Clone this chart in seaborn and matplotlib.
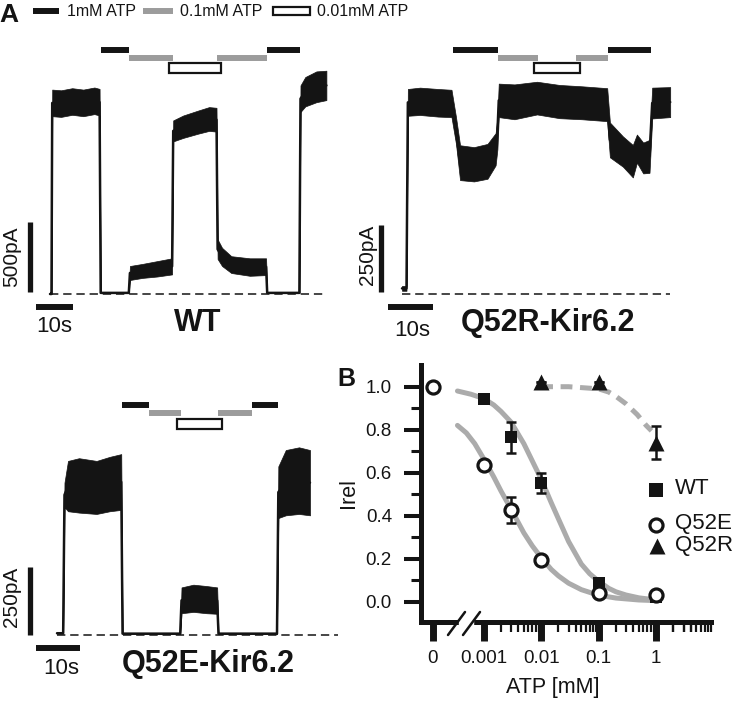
import numpy as np
import pandas as pd
import seaborn as sns
import matplotlib.pyplot as plt
from matplotlib.patches import Rectangle

sns.set_theme(style="white")
plt.rcParams['font.family'] = ['Liberation Sans', 'DejaVu Sans']
plt.rcParams['lines.scale_dashes'] = False

# ---- panel A: current traces, time (s) with lower / upper noise envelope (pA)
wt_t = [0.0, 0.4, 0.6, 3, 6, 9, 12, 13.4, 13.7, 21.3, 21.6, 25, 29, 33.0, 33.3, 36, 40, 43, 45.0,
        45.3, 46.5, 49, 54, 58.4, 58.7, 67.4, 67.7, 69, 72, 74.7]
wt_lo = [0, 0, 1270, 1265, 1280, 1270, 1285, 1275, 8, 8, 100, 115, 125, 140, 1090, 1115, 1145, 1165, 1160,
         250, 200, 150, 130, 135, 8, 8, 1300, 1340, 1370, 1385]
wt_hi = [0, 0, 1460, 1455, 1470, 1460, 1475, 1465, 8, 8, 200, 215, 235, 255, 1240, 1275, 1310, 1335, 1330,
         390, 330, 270, 255, 255, 8, 8, 1490, 1550, 1590, 1595]

q52r_t = [0.0, 1.0, 1.3, 4, 8, 11.0, 12.0, 12.9, 16, 19, 20.8, 21.2, 21.5, 25, 30, 35, 40, 45.6,
          46.2, 49.1, 51.3, 52.2, 53.6, 55.0, 55.6, 59.6]
q52r_lo = [12, 12, 665, 668, 662, 660, 560, 425, 420, 430, 480, 540, 660, 652, 670, 656, 652, 645,
           510, 475, 435, 490, 450, 452, 655, 660]
q52r_hi = [30, 30, 765, 770, 765, 762, 660, 555, 548, 560, 600, 660, 785, 782, 792, 780, 775, 768,
           640, 588, 556, 595, 565, 575, 770, 772]

q52e_t = [0.0, 1.4, 1.7, 2.5, 5, 9, 12, 14.6, 14.9, 28.0, 28.3, 31, 34, 36.4, 36.7, 50.0, 50.3, 52, 55, 57.5]
q52e_lo = [5, 5, 470, 455, 450, 445, 455, 460, 4, 4, 80, 85, 80, 78, 4, 4, 430, 440, 445, 440]
q52e_hi = [8, 8, 560, 640, 650, 640, 655, 665, 6, 6, 175, 185, 180, 175, 6, 6, 620, 680, 690, 680]

# solution exchange periods (s)
wt_black = [(13.8, 21.4), (58.6, 67.6)]
wt_gray = [(21.4, 33.2), (45.1, 58.6)]
wt_open = (32.2, 46.2)
q52r_black = [(11.3, 21.3), (45.8, 55.3)]
q52r_gray = [(21.3, 30.2), (38.7, 45.8)]
q52r_open = (29.3, 39.6)
q52e_black = [(14.8, 20.9), (44.3, 50.2)]
q52e_gray = [(20.9, 28.2), (36.6, 44.3)]
q52e_open = (27.3, 37.5)

# ---- panel B: relative current vs ATP (mM)
wt_atp = [0.001, 0.003, 0.01, 0.1, 1]
wt_irel = [0.945, 0.765, 0.553, 0.086, 0.02]
wt_err = [0.02, 0.072, 0.047, 0.015, 0.01]
q52e_atp = [0, 0.001, 0.003, 0.01, 0.1, 1]
q52e_irel = [1.0, 0.634, 0.425, 0.195, 0.04, 0.03]
q52e_err = [0.0, 0.015, 0.06, 0.015, 0.01, 0.01]
q52r_atp = [0.01, 0.1, 1]
q52r_irel = [1.022, 1.022, 0.74]
q52r_err = [0.0, 0.0, 0.076]

wt_fit_atp = [0.00035, 0.0006, 0.001, 0.0015, 0.002, 0.003, 0.005, 0.007, 0.01, 0.015, 0.02, 0.03,
              0.05, 0.07, 0.1, 0.15, 0.2, 0.3, 0.5, 1.0]
wt_fit_irel = [0.98, 0.965, 0.945, 0.915, 0.885, 0.835, 0.735, 0.655, 0.57, 0.46, 0.385, 0.28,
               0.175, 0.13, 0.095, 0.062, 0.046, 0.031, 0.018, 0.008]
q52e_fit_atp = [0.00035, 0.0005, 0.0007, 0.001, 0.0015, 0.002, 0.003, 0.005, 0.007, 0.01, 0.015,
                0.02, 0.03, 0.05, 0.1, 0.2, 0.5, 1.0]
q52e_fit_irel = [0.82, 0.785, 0.735, 0.665, 0.58, 0.515, 0.43, 0.32, 0.26, 0.205, 0.15,
                 0.12, 0.086, 0.056, 0.03, 0.017, 0.008, 0.005]
q52r_fit_atp = [0.01, 0.03, 0.1, 0.15, 0.2, 0.3, 0.47, 0.67, 0.83]
q52r_fit_irel = [1.0, 1.0, 0.99, 0.975, 0.955, 0.92, 0.87, 0.82, 0.795]

x_ticks = [0, 0.001, 0.01, 0.1, 1]
x_ticklabels = ['0', '0.001', '0.01', '0.1', '1']
y_ticks = [0.0, 0.2, 0.4, 0.6, 0.8, 1.0]

W, H = 740, 702
INK = '#141414'
GREY_BAR = '#9c9c9c'
GREY_FIT = '#ababab'

fig = plt.figure(figsize=(W / 100, H / 100), dpi=100)


def trace_axes(box, x0, pps, base, ppa):
    l, t, r, b = box
    ax = fig.add_axes([l / W, 1 - b / H, (r - l) / W, (b - t) / H])
    ax.set_xlim((l - x0) / pps, (r - x0) / pps)
    ax.set_ylim((base - b) / ppa, (base - t) / ppa)
    ax.axis('off')
    return ax, (lambda px: (px - x0) / pps), (lambda py: (base - py) / ppa)


def draw_trace(ax, t, lo, hi, t_end):
    df = pd.DataFrame({'t': t, 'lo': lo, 'hi': hi})
    df['mid'] = (df['lo'] + df['hi']) / 2
    ax.plot([0, t_end], [0, 0], color=INK, lw=1.1, dashes=(6, 3.5), zorder=1)
    ax.fill_between(df['t'], df['lo'], df['hi'], color=INK, lw=0.5, zorder=2)
    sns.lineplot(data=df, x='t', y='mid', ax=ax, color=INK, lw=1.8, sort=False,
                 estimator=None, zorder=3)
    ax.set(xlabel=None, ylabel=None)


def draw_solutions(ax, ay, black, gray, opn, y_black, y_gray, y_top, y_bot):
    for a, b in black:
        ax.plot([a, b], [ay(y_black)] * 2, color=INK, lw=4.3, solid_capstyle='butt', clip_on=False)
    for a, b in gray:
        ax.plot([a, b], [ay(y_gray)] * 2, color=GREY_BAR, lw=4.3, solid_capstyle='butt', clip_on=False)
    ax.add_patch(Rectangle((opn[0], ay(y_bot)), opn[1] - opn[0], ay(y_top) - ay(y_bot),
                           fill=False, ec=INK, lw=1.6, clip_on=False))


def draw_scale(ax, tx, ay, vx, vy0, pa, hx0, hy):
    ax.plot([tx(vx)] * 2, [ay(vy0), ay(vy0) + pa], color=INK, lw=3.8, solid_capstyle='butt', clip_on=False)
    ax.plot([tx(hx0), tx(hx0) + 10], [ay(hy)] * 2, color=INK, lw=4.3, solid_capstyle='butt', clip_on=False)


# WT
ax1, tx1, ay1 = trace_axes((0, 40, 348, 345), 50, 3.7, 294, 0.14)
draw_trace(ax1, wt_t, wt_lo, wt_hi, 74.9)
draw_solutions(ax1, ay1, wt_black, wt_gray, wt_open, 50, 58, 63, 73)
draw_scale(ax1, tx1, ay1, 29.5, 292, 500, 36, 307)

# Q52R
ax2, tx2, ay2 = trace_axes((352, 40, 740, 345), 402, 4.5, 294, 0.268)
draw_trace(ax2, q52r_t, q52r_lo, q52r_hi, 59.6)
draw_solutions(ax2, ay2, q52r_black, q52r_gray, q52r_open, 50, 58, 63, 73)
draw_scale(ax2, tx2, ay2, 380.5, 292, 250, 388, 307)

# Q52E
ax3, tx3, ay3 = trace_axes((0, 392, 345, 702), 57, 4.4, 635, 0.272)
draw_trace(ax3, q52e_t, q52e_lo, q52e_hi, 63.9)
draw_solutions(ax3, ay3, q52e_black, q52e_gray, q52e_open, 405, 413, 419, 429)
draw_scale(ax3, tx3, ay3, 30, 635, 250, 36, 648)

# ---- panel B
ZERO_POS = -3.89


def to_u(c):
    c = np.asarray(c, dtype=float)
    return np.where(c > 0, np.log10(np.where(c > 0, c, 1.0)), ZERO_POS)


axb = fig.add_axes([420.5 / W, 1 - 621.5 / H, (711 - 420.5) / W, (621.5 - 365) / H])
axb.set_facecolor('none')
sns.lineplot(x=to_u(wt_fit_atp), y=wt_fit_irel, ax=axb, color=GREY_FIT, lw=3.6, zorder=1)
sns.lineplot(x=to_u(q52e_fit_atp), y=q52e_fit_irel, ax=axb, color=GREY_FIT, lw=3.6, zorder=1)
sns.lineplot(x=to_u(q52r_fit_atp), y=q52r_fit_irel, ax=axb, color=GREY_FIT, lw=3.6,
             dashes=False, zorder=1).lines[-1].set_dashes((8.5, 5.5))

for atp, irel, err in [(wt_atp, wt_irel, wt_err), (q52e_atp, q52e_irel, q52e_err), (q52r_atp, q52r_irel, q52r_err)]:
    axb.errorbar(to_u(atp), irel, yerr=err, fmt='none', ecolor=INK, elinewidth=1.8,
                 capsize=3.6, capthick=1.8, zorder=2)

sns.scatterplot(x=to_u(wt_atp), y=wt_irel, ax=axb, marker='s', s=9 ** 2, color=INK,
                edgecolor=INK, linewidth=0, zorder=3)
sns.scatterplot(x=to_u(q52r_atp), y=q52r_irel, ax=axb, marker='^', s=11.5 ** 2, color=INK,
                edgecolor=INK, linewidth=0, zorder=3)
sns.scatterplot(x=to_u(q52e_atp), y=q52e_irel, ax=axb, marker='o', s=9.4 ** 2, color='white',
                edgecolor=INK, linewidth=2.3, zorder=4)

axb.set_xlim(-2 + (420.5 - 550) / 61.7, -2 + (711 - 550) / 61.7)
axb.set_ylim((601.7 - 621.5) / 215, (601.7 - 365) / 215)
axb.set_xticks(to_u(x_ticks))
axb.set_xticklabels(x_ticklabels)
minor = [np.log10(k * 10.0 ** n) for n in range(-3, 1) for k in range(2, 10)] + [np.log10(2), np.log10(3), np.log10(4)]
axb.set_xticks(minor, minor=True)
axb.set_yticks(y_ticks)
axb.set_yticklabels([f'{v:.1f}' for v in y_ticks])
axb.set_yticks([0.1, 0.3, 0.5, 0.7, 0.9], minor=True)
for s in ['top', 'right']:
    axb.spines[s].set_visible(False)
for s in ['left', 'bottom']:
    axb.spines[s].set_linewidth(3.6)
    axb.spines[s].set_color(INK)
axb.tick_params(axis='x', which='major', direction='out', length=13.7, width=5, color=INK,
                labelsize=13.5, pad=6.5, labelcolor=INK, bottom=True)
axb.tick_params(axis='x', which='minor', direction='out', length=7.5, width=1.6, color=INK, bottom=True)
axb.tick_params(axis='y', which='major', direction='out', length=12.6, width=2.9, color=INK,
                labelsize=13.5, pad=8, labelcolor=INK, left=True)
axb.tick_params(axis='y', which='minor', direction='out', length=7, width=2.2, color=INK, left=True)
axb.set(xlabel=None, ylabel=None)
axb.grid(False)

# ---- overlay in pixel coordinates for labels and legends
ov = fig.add_axes([0, 0, 1, 1])
ov.set_xlim(0, W)
ov.set_ylim(H, 0)
ov.axis('off')

# axis break on the x axis of panel B
ov.add_patch(Rectangle((459, 616), 14, 11, color='white', zorder=5))
for dx in (0, 15):
    ov.plot([448 + dx, 465 + dx], [635, 612], color=INK, lw=1.8, zorder=6)

ov.text(9, 15, 'A', fontsize=19, fontweight='bold', ha='center', va='center', color=INK)
ov.plot([33, 59], [11, 11], color=INK, lw=4.3, solid_capstyle='butt')
ov.plot([143, 173], [11, 11], color=GREY_BAR, lw=4.3, solid_capstyle='butt')
ov.add_patch(Rectangle((273, 7), 37, 8, fill=False, ec=INK, lw=1.6))
for x, s in [(67, '1mM ATP'), (180, '0.1mM ATP'), (317, '0.01mM ATP')]:
    ov.text(x, 11, s, fontsize=11.5, ha='left', va='center', color=INK)

for x, y, s in [(198, 323, 'WT'), (548, 323, 'Q52R-Kir6.2'), (208, 664, 'Q52E-Kir6.2')]:
    ov.text(x, y, s, fontsize=22, fontweight='bold', ha='center', va='center', color=INK)
for x, y in [(54, 327), (412, 330), (61, 669)]:
    ov.text(x, y, '10s', fontsize=16, ha='center', va='center', color=INK)
for x, y, s in [(12, 257, '500pA'), (367, 255, '250pA'), (12, 597, '250pA')]:
    ov.text(x, y, s, fontsize=15, rotation=90, ha='center', va='center', color=INK)

ov.text(346, 379, 'B', fontsize=18, fontweight='bold', ha='center', va='center', color=INK)
ov.text(349, 493, 'Irel', fontsize=15.5, rotation=90, ha='center', va='center', color=INK)
ov.text(553, 687, 'ATP [mM]', fontsize=15.5, ha='center', va='center', color=INK)

# legend of panel B
ov.scatter([656], [490], marker='s', s=9.5 ** 2, color=INK, linewidths=0)
ov.scatter([656], [525], marker='o', s=9.4 ** 2, facecolor='white', edgecolor=INK, linewidths=2.3)
ov.scatter([657], [546], marker='^', s=11.5 ** 2, color=INK, linewidths=0)
for y, s in [(488, 'WT'), (523, 'Q52E'), (545, 'Q52R')]:
    ov.text(675, y, s, fontsize=16, ha='left', va='center', color=INK)

fig.savefig('out.png', dpi=100)
